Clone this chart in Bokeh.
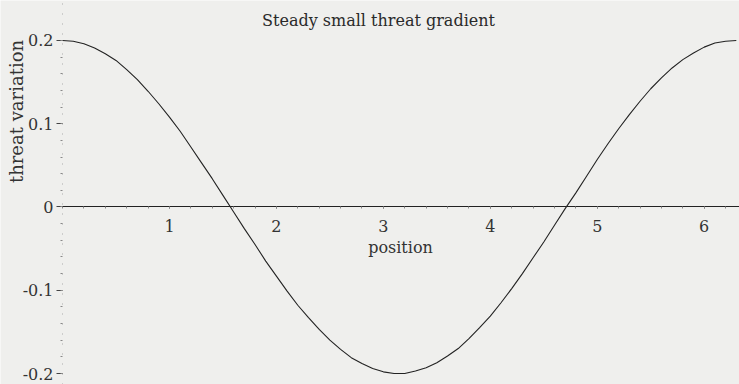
from bokeh.plotting import figure
from bokeh.models import Range1d, FixedTicker, Label, CustomJSTickFormatter
from bokeh.embed import file_html
from bokeh.resources import INLINE

# Sampled curve: threat variation along position
position = [0.0, 0.1, 0.2, 0.3, 0.4, 0.5, 0.6, 0.7, 0.8, 0.9,
            1.0, 1.1, 1.2, 1.3, 1.4, 1.5, 1.6, 1.7, 1.8, 1.9,
            2.0, 2.1, 2.2, 2.3, 2.4, 2.5, 2.6, 2.7, 2.8, 2.9,
            3.0, 3.1, 3.2, 3.3, 3.4, 3.5, 3.6, 3.7, 3.8, 3.9,
            4.0, 4.1, 4.2, 4.3, 4.4, 4.5, 4.6, 4.7, 4.8, 4.9,
            5.0, 5.1, 5.2, 5.3, 5.4, 5.5, 5.6, 5.7, 5.8, 5.9,
            6.0, 6.1, 6.2, 6.3]
threat = [0.200, 0.199, 0.196, 0.191, 0.184, 0.176, 0.165, 0.153, 0.139, 0.124,
          0.108, 0.091, 0.072, 0.053, 0.034, 0.014, -0.006, -0.026, -0.045, -0.065,
          -0.083, -0.101, -0.118, -0.133, -0.147, -0.160, -0.171, -0.181, -0.188, -0.194,
          -0.198, -0.200, -0.200, -0.197, -0.193, -0.187, -0.179, -0.170, -0.158, -0.145,
          -0.131, -0.115, -0.098, -0.080, -0.061, -0.042, -0.022, -0.002, 0.017, 0.037,
          0.057, 0.076, 0.094, 0.111, 0.127, 0.142, 0.155, 0.167, 0.177, 0.185,
          0.192, 0.197, 0.199, 0.200]

x_ticks = [1, 2, 3, 4, 5, 6]
y_ticks = [-0.2, -0.1, 0, 0.1, 0.2]

title_text = "Steady small threat gradient"
x_label = "position"
y_label = "threat variation"

FONT = "DejaVu Serif"
BG = "#efefed"
INK = "#2a2a2a"

p = figure(width=739, height=384, output_backend="svg", toolbar_location=None,
           x_range=Range1d(-0.58, 6.33), y_range=Range1d(-0.2132, 0.248),
           min_border=0, background_fill_color=BG, border_fill_color=BG,
           outline_line_color=None)
p.grid.visible = False

p.line(position, threat, line_color="#222222", line_width=1.1, line_join="round")

# Horizontal axis drawn through y = 0
xa = p.xaxis[0]
xa.fixed_location = 0
xa.bounds = (-0.04, 6.33)
xa.ticker = FixedTicker(ticks=x_ticks, minor_ticks=[i / 5 for i in range(0, 32)])
xa.axis_line_color = "#222222"
xa.axis_line_width = 1.2
xa.major_tick_in = 0
xa.major_tick_out = 2
xa.minor_tick_in = 0
xa.minor_tick_out = 2
xa.major_tick_line_color = "#555555"
xa.minor_tick_line_color = "#888888"
xa.major_label_standoff = 11
xa.major_label_text_font = FONT
xa.major_label_text_font_size = "16px"
xa.major_label_text_color = "#333333"

# Vertical axis drawn through x = 0
ya = p.yaxis[0]
ya.fixed_location = 0
ya.ticker = FixedTicker(ticks=y_ticks, minor_ticks=[-0.2 + i * 0.02 for i in range(0, 21)])
ya.axis_line_color = "#aaaaaa"
ya.axis_line_width = 1
ya.axis_line_dash = "1 9"
ya.major_tick_in = 0
ya.major_tick_out = 6
ya.minor_tick_in = 0
ya.minor_tick_out = 2
ya.major_tick_line_color = "#444444"
ya.minor_tick_line_color = "#888888"
ya.major_label_standoff = 3
ya.major_label_text_font = FONT
ya.major_label_text_font_size = "16px"
ya.major_label_text_color = "#333333"
ya.formatter = CustomJSTickFormatter(code="return tick == 0 ? '0' : tick.toFixed(1);")

p.add_layout(Label(x=378, y=364, x_units="screen", y_units="screen",
                   text=title_text, text_font=FONT, text_font_size="16px",
                   text_color=INK, text_align="center", text_baseline="middle"))
p.add_layout(Label(x=400, y=137, x_units="screen", y_units="screen",
                   text=x_label, text_font=FONT, text_font_size="16px",
                   text_color="#333333", text_align="center", text_baseline="middle"))
p.add_layout(Label(x=16, y=273, x_units="screen", y_units="screen",
                   text=y_label, text_font=FONT, text_font_size="18px",
                   text_color="#333333", text_align="center", text_baseline="middle",
                   angle=90, angle_units="deg"))

open("out.html", "w").write(file_html(p, INLINE))
